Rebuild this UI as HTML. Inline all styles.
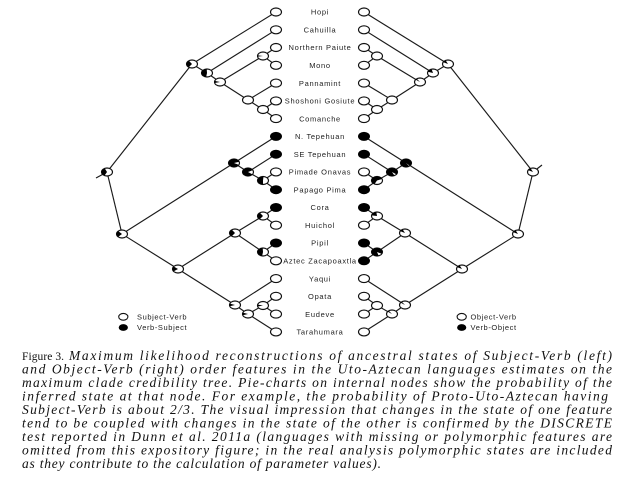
<!DOCTYPE html>
<html><head><meta charset="utf-8"><style>
html,body{margin:0;padding:0;background:#fff;width:640px;height:480px;overflow:hidden}
svg{display:block}
.lbl{font-family:"Liberation Sans",sans-serif;font-size:7.5px;letter-spacing:0.7px;fill:#222;text-anchor:middle}
.leg{font-family:"Liberation Sans",sans-serif;font-size:7.5px;letter-spacing:0.6px;fill:#222}
.cap{font-family:"Liberation Serif",serif;font-size:13px;fill:#111}
.fig{font-size:11.5px}
.it{font-style:italic;font-size:13.5px}
.e line{stroke:#1a1a1a;stroke-width:1.15}
</style></head><body>
<svg width="640" height="480" viewBox="0 0 640 480" xmlns="http://www.w3.org/2000/svg">
<defs>
<g id="edges" class="e">
<line x1="107" y1="172" x2="192" y2="64"/>
<line x1="107" y1="172" x2="122" y2="234"/>
<line x1="192" y1="64" x2="276" y2="12"/>
<line x1="192" y1="64" x2="207" y2="73"/>
<line x1="207" y1="73" x2="276" y2="29.8"/>
<line x1="207" y1="73" x2="220" y2="82"/>
<line x1="220" y1="82" x2="263" y2="56"/>
<line x1="220" y1="82" x2="248" y2="100"/>
<line x1="263" y1="56" x2="276" y2="47.5"/>
<line x1="263" y1="56" x2="276" y2="65.3"/>
<line x1="248" y1="100" x2="276" y2="83.1"/>
<line x1="248" y1="100" x2="263" y2="109.5"/>
<line x1="263" y1="109.5" x2="276" y2="100.9"/>
<line x1="263" y1="109.5" x2="276" y2="118.6"/>
<line x1="122" y1="234" x2="234" y2="163"/>
<line x1="122" y1="234" x2="178" y2="269"/>
<line x1="234" y1="163" x2="276" y2="136.4"/>
<line x1="234" y1="163" x2="248" y2="172"/>
<line x1="248" y1="172" x2="276" y2="154.2"/>
<line x1="248" y1="172" x2="263" y2="180.5"/>
<line x1="263" y1="180.5" x2="276" y2="171.9"/>
<line x1="263" y1="180.5" x2="276" y2="189.7"/>
<line x1="178" y1="269" x2="235" y2="233"/>
<line x1="178" y1="269" x2="235" y2="305"/>
<line x1="235" y1="233" x2="263" y2="216"/>
<line x1="235" y1="233" x2="263" y2="252"/>
<line x1="263" y1="216" x2="276" y2="207.5"/>
<line x1="263" y1="216" x2="276" y2="225.2"/>
<line x1="263" y1="252" x2="276" y2="243"/>
<line x1="263" y1="252" x2="276" y2="260.8"/>
<line x1="235" y1="305" x2="276" y2="278.6"/>
<line x1="235" y1="305" x2="248" y2="314"/>
<line x1="248" y1="314" x2="263" y2="305.5"/>
<line x1="248" y1="314" x2="276" y2="331.9"/>
<line x1="263" y1="305.5" x2="276" y2="296.3"/>
<line x1="263" y1="305.5" x2="276" y2="314.1"/>
</g>
<circle id="nw" r="5" fill="#fff" stroke="#111" stroke-width="1.15" vector-effect="non-scaling-stroke"/>
<circle id="nb" r="5" fill="#000" stroke="#000" stroke-width="1" vector-effect="non-scaling-stroke"/>
</defs>

<use href="#edges"/>
<g transform="matrix(-1 0 0 1 640 0)"><use href="#edges"/></g>
<g class="e">
<line x1="107" y1="172" x2="96" y2="178"/>
<line x1="533" y1="172" x2="542" y2="165"/>
</g>

<!-- LEFT TREE NODES -->
<g>
<g transform="translate(107,172) scale(1.1,0.8)"><use href="#nw"/><circle r="2.5" fill="none" stroke="#000" stroke-width="5" stroke-dasharray="5.5 20" transform="rotate(117)"/></g>
<g transform="translate(192,64) scale(1.1,0.8)"><use href="#nw"/><circle r="2.5" fill="none" stroke="#000" stroke-width="5" stroke-dasharray="4.7 20" transform="rotate(126)"/></g>
<g transform="translate(207,73) scale(1.1,0.8)"><use href="#nw"/><circle r="2.5" fill="none" stroke="#000" stroke-width="5" stroke-dasharray="7.1 20" transform="rotate(99)"/></g>
<g transform="translate(220,82) scale(1.1,0.8)"><use href="#nw"/><circle r="2.5" fill="none" stroke="#000" stroke-width="5" stroke-dasharray="1.3 20" transform="rotate(166)"/></g>
<g transform="translate(263,56) scale(1.1,0.8)"><use href="#nw"/><circle r="2.5" fill="none" stroke="#000" stroke-width="5" stroke-dasharray="0.8 20" transform="rotate(171)"/></g>
<g transform="translate(248,100) scale(1.1,0.8)"><use href="#nw"/></g>
<g transform="translate(263,109.5) scale(1.1,0.8)"><use href="#nw"/></g>
<g transform="translate(122,234) scale(1.1,0.8)"><use href="#nw"/><circle r="2.5" fill="none" stroke="#000" stroke-width="5" stroke-dasharray="3.9 20" transform="rotate(135)"/></g>
<g transform="translate(234,163) scale(1.1,0.8)"><use href="#nw"/><circle r="2.5" fill="none" stroke="#000" stroke-width="5" stroke-dasharray="13.4 20" transform="rotate(27)"/></g>
<g transform="translate(248,172) scale(1.1,0.8)"><use href="#nw"/><circle r="2.5" fill="none" stroke="#000" stroke-width="5" stroke-dasharray="12.6 20" transform="rotate(36)"/></g>
<g transform="translate(263,180.5) scale(1.1,0.8)"><use href="#nw"/><circle r="2.5" fill="none" stroke="#000" stroke-width="5" stroke-dasharray="7.9 20" transform="rotate(90)"/></g>
<g transform="translate(178,269) scale(1.1,0.8)"><use href="#nw"/><circle r="2.5" fill="none" stroke="#000" stroke-width="5" stroke-dasharray="3.1 20" transform="rotate(144)"/></g>
<g transform="translate(235,233) scale(1.1,0.8)"><use href="#nw"/><circle r="2.5" fill="none" stroke="#000" stroke-width="5" stroke-dasharray="4.7 20" transform="rotate(126)"/></g>
<g transform="translate(263,216) scale(1.1,0.8)"><use href="#nw"/><circle r="2.5" fill="none" stroke="#000" stroke-width="5" stroke-dasharray="4.7 20" transform="rotate(126)"/></g>
<g transform="translate(263,252) scale(1.1,0.8)"><use href="#nw"/><circle r="2.5" fill="none" stroke="#000" stroke-width="5" stroke-dasharray="7.1 20" transform="rotate(99)"/></g>
<g transform="translate(235,305) scale(1.1,0.8)"><use href="#nw"/><circle r="2.5" fill="none" stroke="#000" stroke-width="5" stroke-dasharray="1.6 20" transform="rotate(162)"/></g>
<g transform="translate(248,314) scale(1.1,0.8)"><use href="#nw"/><circle r="2.5" fill="none" stroke="#000" stroke-width="5" stroke-dasharray="1.6 20" transform="rotate(162)"/></g>
<g transform="translate(263,305.5) scale(1.1,0.8)"><use href="#nw"/><circle r="2.5" fill="none" stroke="#000" stroke-width="5" stroke-dasharray="1.2 20" transform="rotate(166)"/></g>
<g transform="translate(276,12) scale(1.1,0.8)"><use href="#nw"/></g>
<g transform="translate(276,29.8) scale(1.1,0.8)"><use href="#nw"/></g>
<g transform="translate(276,47.5) scale(1.1,0.8)"><use href="#nw"/></g>
<g transform="translate(276,65.3) scale(1.1,0.8)"><use href="#nw"/></g>
<g transform="translate(276,83.1) scale(1.1,0.8)"><use href="#nw"/></g>
<g transform="translate(276,100.9) scale(1.1,0.8)"><use href="#nw"/></g>
<g transform="translate(276,118.6) scale(1.1,0.8)"><use href="#nw"/></g>
<g transform="translate(276,136.4) scale(1.1,0.8)"><use href="#nb"/></g>
<g transform="translate(276,154.2) scale(1.1,0.8)"><use href="#nb"/></g>
<g transform="translate(276,171.9) scale(1.1,0.8)"><use href="#nw"/></g>
<g transform="translate(276,189.7) scale(1.1,0.8)"><use href="#nb"/></g>
<g transform="translate(276,207.5) scale(1.1,0.8)"><use href="#nb"/></g>
<g transform="translate(276,225.2) scale(1.1,0.8)"><use href="#nw"/></g>
<g transform="translate(276,243) scale(1.1,0.8)"><use href="#nb"/></g>
<g transform="translate(276,260.8) scale(1.1,0.8)"><use href="#nw"/></g>
<g transform="translate(276,278.6) scale(1.1,0.8)"><use href="#nw"/></g>
<g transform="translate(276,296.3) scale(1.1,0.8)"><use href="#nw"/></g>
<g transform="translate(276,314.1) scale(1.1,0.8)"><use href="#nw"/></g>
<g transform="translate(276,331.9) scale(1.1,0.8)"><use href="#nw"/></g>
</g>

<!-- RIGHT TREE NODES -->
<g>
<g transform="translate(533,172) scale(1.1,0.8)"><use href="#nw"/><circle r="2.5" fill="none" stroke="#000" stroke-width="5" stroke-dasharray="1.6 20" transform="rotate(207)"/></g>
<g transform="translate(448,64) scale(1.1,0.8)"><use href="#nw"/><circle r="2.5" fill="none" stroke="#000" stroke-width="5" stroke-dasharray="1.6 20" transform="rotate(207)"/></g>
<g transform="translate(433,73) scale(1.1,0.8)"><use href="#nw"/><circle r="2.5" fill="none" stroke="#000" stroke-width="5" stroke-dasharray="2.4 20" transform="rotate(198)"/></g>
<g transform="translate(420,82) scale(1.1,0.8)"><use href="#nw"/><circle r="2.5" fill="none" stroke="#000" stroke-width="5" stroke-dasharray="0.8 20" transform="rotate(216)"/></g>
<g transform="translate(377,56) scale(1.1,0.8)"><use href="#nw"/></g>
<g transform="translate(392,100) scale(1.1,0.8)"><use href="#nw"/></g>
<g transform="translate(377,109.5) scale(1.1,0.8)"><use href="#nw"/></g>
<g transform="translate(518,234) scale(1.1,0.8)"><use href="#nw"/><circle r="2.5" fill="none" stroke="#000" stroke-width="5" stroke-dasharray="1.6 20" transform="rotate(207)"/></g>
<g transform="translate(406,163) scale(1.1,0.8)"><use href="#nw"/><circle r="2.5" fill="none" stroke="#000" stroke-width="5" stroke-dasharray="14.9 20" transform="rotate(54)"/></g>
<g transform="translate(392,172) scale(1.1,0.8)"><use href="#nw"/><circle r="2.5" fill="none" stroke="#000" stroke-width="5" stroke-dasharray="14.1 20" transform="rotate(63)"/></g>
<g transform="translate(377,180.5) scale(1.1,0.8)"><use href="#nw"/><circle r="2.5" fill="none" stroke="#000" stroke-width="5" stroke-dasharray="9.4 20" transform="rotate(117)"/></g>
<g transform="translate(462,269) scale(1.1,0.8)"><use href="#nw"/><circle r="2.5" fill="none" stroke="#000" stroke-width="5" stroke-dasharray="1.6 20" transform="rotate(207)"/></g>
<g transform="translate(405,233) scale(1.1,0.8)"><use href="#nw"/><circle r="2.5" fill="none" stroke="#000" stroke-width="5" stroke-dasharray="1.6 20" transform="rotate(207)"/></g>
<g transform="translate(377,216) scale(1.1,0.8)"><use href="#nw"/><circle r="2.5" fill="none" stroke="#000" stroke-width="5" stroke-dasharray="3.1 20" transform="rotate(189)"/></g>
<g transform="translate(377,252) scale(1.1,0.8)"><use href="#nw"/><circle r="2.5" fill="none" stroke="#000" stroke-width="5" stroke-dasharray="13.4 20" transform="rotate(72)"/></g>
<g transform="translate(405,305) scale(1.1,0.8)"><use href="#nw"/><circle r="2.5" fill="none" stroke="#000" stroke-width="5" stroke-dasharray="0.8 20" transform="rotate(216)"/></g>
<g transform="translate(392,314) scale(1.1,0.8)"><use href="#nw"/><circle r="2.5" fill="none" stroke="#000" stroke-width="5" stroke-dasharray="0.8 20" transform="rotate(216)"/></g>
<g transform="translate(377,305.5) scale(1.1,0.8)"><use href="#nw"/></g>
<g transform="translate(364,12) scale(1.1,0.8)"><use href="#nw"/></g>
<g transform="translate(364,29.8) scale(1.1,0.8)"><use href="#nw"/></g>
<g transform="translate(364,47.5) scale(1.1,0.8)"><use href="#nw"/></g>
<g transform="translate(364,65.3) scale(1.1,0.8)"><use href="#nw"/></g>
<g transform="translate(364,83.1) scale(1.1,0.8)"><use href="#nw"/></g>
<g transform="translate(364,100.9) scale(1.1,0.8)"><use href="#nw"/></g>
<g transform="translate(364,118.6) scale(1.1,0.8)"><use href="#nw"/></g>
<g transform="translate(364,136.4) scale(1.1,0.8)"><use href="#nb"/></g>
<g transform="translate(364,154.2) scale(1.1,0.8)"><use href="#nb"/></g>
<g transform="translate(364,171.9) scale(1.1,0.8)"><use href="#nw"/></g>
<g transform="translate(364,189.7) scale(1.1,0.8)"><use href="#nb"/></g>
<g transform="translate(364,207.5) scale(1.1,0.8)"><use href="#nb"/></g>
<g transform="translate(364,225.2) scale(1.1,0.8)"><use href="#nw"/></g>
<g transform="translate(364,243) scale(1.1,0.8)"><use href="#nb"/></g>
<g transform="translate(364,260.8) scale(1.1,0.8)"><use href="#nb"/></g>
<g transform="translate(364,278.6) scale(1.1,0.8)"><use href="#nw"/></g>
<g transform="translate(364,296.3) scale(1.1,0.8)"><use href="#nw"/></g>
<g transform="translate(364,314.1) scale(1.1,0.8)"><use href="#nw"/></g>
<g transform="translate(364,331.9) scale(1.1,0.8)"><use href="#nw"/></g>
</g>

<!-- LABELS -->
<text class="lbl" x="320" y="14.7">Hopi</text>
<text class="lbl" x="320" y="32.5">Cahuilla</text>
<text class="lbl" x="320" y="50.2">Northern Paiute</text>
<text class="lbl" x="320" y="68">Mono</text>
<text class="lbl" x="320" y="85.8">Pannamint</text>
<text class="lbl" x="320" y="103.6">Shoshoni Gosiute</text>
<text class="lbl" x="320" y="121.3">Comanche</text>
<text class="lbl" x="320" y="139.1">N. Tepehuan</text>
<text class="lbl" x="320" y="156.9">SE Tepehuan</text>
<text class="lbl" x="320" y="174.6">Pimade Onavas</text>
<text class="lbl" x="320" y="192.4">Papago Pima</text>
<text class="lbl" x="320" y="210.2">Cora</text>
<text class="lbl" x="320" y="227.9">Huichol</text>
<text class="lbl" x="320" y="245.7">Pipil</text>
<text class="lbl" x="320" y="263.5">Aztec Zacapoaxtla</text>
<text class="lbl" x="320" y="281.3">Yaqui</text>
<text class="lbl" x="320" y="299">Opata</text>
<text class="lbl" x="320" y="316.8">Eudeve</text>
<text class="lbl" x="320" y="334.6">Tarahumara</text>

<!-- LEGENDS -->
<ellipse cx="123.3" cy="316.8" rx="4.6" ry="3.4" fill="#fff" stroke="#111" stroke-width="1.1"/>
<ellipse cx="123.3" cy="327.5" rx="4.6" ry="3.4" fill="#000"/>
<text class="leg" x="137" y="319.5">Subject-Verb</text>
<text class="leg" x="137" y="330.2">Verb-Subject</text>
<ellipse cx="461.7" cy="316.8" rx="4.6" ry="3.4" fill="#fff" stroke="#111" stroke-width="1.1"/>
<ellipse cx="461.7" cy="327.5" rx="4.6" ry="3.4" fill="#000"/>
<text class="leg" x="470.5" y="319.5">Object-Verb</text>
<text class="leg" x="470.5" y="330.2">Verb-Object</text>

<!-- CAPTION -->
<text class="cap fig" x="22" y="360" textLength="42" lengthAdjust="spacing">Figure 3.</text>
<text class="cap it" x="69" y="360" textLength="543" lengthAdjust="spacing">Maximum likelihood reconstructions of ancestral states of Subject-Verb (left)</text>
<text class="cap it" x="22" y="373.5" textLength="590" lengthAdjust="spacing">and Object-Verb (right) order features in the Uto-Aztecan languages estimates on the</text>
<text class="cap it" x="22" y="387" textLength="590" lengthAdjust="spacing">maximum clade credibility tree. Pie-charts on internal nodes show the probability of the</text>
<text class="cap it" x="22" y="400.5" textLength="586" lengthAdjust="spacing">inferred state at that node. For example, the probability of Proto-Uto-Aztecan having</text>
<text class="cap it" x="22" y="414" textLength="590" lengthAdjust="spacing">Subject-Verb is about 2/3. The visual impression that changes in the state of one feature</text>
<text class="cap it" x="22" y="427.5" textLength="590" lengthAdjust="spacing">tend to be coupled with changes in the state of the other is confirmed by the DISCRETE</text>
<text class="cap it" x="22" y="441" textLength="590" lengthAdjust="spacing">test reported in Dunn et al. 2011a (languages with missing or polymorphic features are</text>
<text class="cap it" x="22" y="454.5" textLength="590" lengthAdjust="spacing">omitted from this expository figure; in the real analysis polymorphic states are included</text>
<text class="cap it" x="22" y="468" textLength="359" lengthAdjust="spacing">as they contribute to the calculation of parameter values).</text>
</svg>
</body></html>
